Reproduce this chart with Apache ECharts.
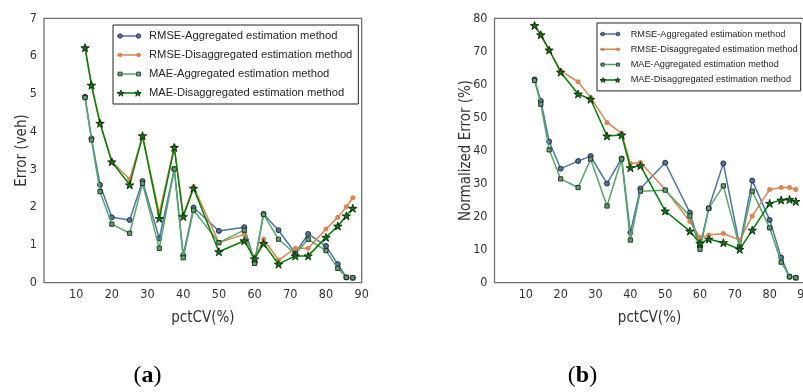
<!DOCTYPE html>
<html><head><meta charset="utf-8">
<script src="https://cdn.jsdelivr.net/npm/echarts@6/dist/echarts.min.js"></script>
<style>html,body{margin:0;padding:0;background:#fff}#c{width:803px;height:392px}</style>
</head><body><div id="c"></div>
<script>
// ---- data ----
const pctCV = [12.5, 14.3, 16.7, 20.0, 25.0, 28.6, 33.3, 37.5, 40.0, 42.9, 50.0, 57.1, 60.0, 62.5, 66.7, 71.4, 75.0, 80.0, 83.3, 85.7, 87.5];
const xTicks = [10, 20, 30, 40, 50, 60, 70, 80, 90];
const seriesNames = ['RMSE-Aggregated estimation method', 'RMSE-Disaggregated estimation method', 'MAE-Aggregated estimation method', 'MAE-Disaggregated estimation method'];
// (a) Error (veh)
const rmseAggA = [4.92, 3.82, 2.59, 1.73, 1.66, 2.69, 1.17, 3.01, 0.73, 1.99, 1.37, 1.47, 0.56, 1.82, 1.39, 0.78, 1.29, 0.97, 0.49, 0.14, 0.13];
const rmseDisA = [6.22, 5.23, 4.22, 3.20, 2.74, 3.87, 1.84, 3.60, 1.79, 2.54, 1.06, 1.28, 0.62, 1.15, 0.60, 0.91, 0.91, 1.42, 1.73, 2.01, 2.25];
const maeAggA  = [4.90, 3.78, 2.41, 1.55, 1.31, 2.63, 0.91, 3.01, 0.66, 1.92, 1.06, 1.39, 0.51, 1.81, 1.15, 0.76, 1.15, 0.85, 0.38, 0.14, 0.13];
const maeDisA  = [6.22, 5.23, 4.22, 3.20, 2.59, 3.89, 1.70, 3.58, 1.75, 2.50, 0.82, 1.11, 0.63, 1.04, 0.49, 0.71, 0.71, 1.20, 1.50, 1.77, 1.97];
// (b) Normalized Error (%)
const rmseAggB = [61.5, 55.0, 42.7, 34.5, 36.8, 38.3, 30.0, 37.6, 15.2, 28.5, 36.3, 21.2, 11.1, 22.5, 36.1, 11.1, 30.9, 19.0, 7.6, 1.8, 1.5];
const rmseDisB = [77.8, 75.0, 70.4, 64.1, 60.8, 56.0, 48.5, 45.2, 36.1, 36.4, 28.2, 18.5, 13.7, 14.4, 14.9, 12.9, 20.2, 28.2, 28.8, 28.8, 28.2];
const maeAggB  = [61.2, 54.0, 40.2, 31.4, 28.8, 37.4, 23.2, 37.4, 12.9, 27.7, 28.0, 20.2, 10.1, 22.5, 29.3, 10.7, 27.7, 16.6, 6.2, 1.8, 1.5];
const maeDisB  = [77.8, 75.0, 70.4, 63.7, 57.1, 55.5, 44.4, 44.7, 34.8, 35.4, 21.7, 15.6, 11.9, 13.2, 12.1, 10.1, 15.9, 24.0, 25.0, 25.2, 24.6];

// ---- styling helpers ----
const colors = ['#4C72B0', '#DD8452', '#55A868', '#008000'];
const edge = '#222222';
const narrow = "'Liberation Sans Narrow','Arial Narrow','DejaVu Sans Condensed',sans-serif";
const sans = "'Liberation Sans',Arial,sans-serif";

function starPts(cx, cy, R) {
  const r = R * 0.382; let s = '';
  for (let k = 0; k < 10; k++) {
    const ang = -Math.PI / 2 + k * Math.PI / 5;
    const rad = k % 2 === 0 ? R : r;
    s += (k === 0 ? 'M' : 'L') + (cx + rad * Math.cos(ang)).toFixed(3) + ',' + (cy + rad * Math.sin(ang)).toFixed(3) + ' ';
  }
  return s + 'Z ';
}
function circ(cx, cy, r) {
  return `M${cx - r},${cy} A${r},${r} 0 1,1 ${cx + r},${cy} A${r},${r} 0 1,1 ${cx - r},${cy} Z `;
}
function sq(cx, cy, h) {
  return `M${cx - h},${cy - h} L${cx + h},${cy - h} L${cx + h},${cy + h} L${cx - h},${cy + h} Z `;
}
function specks(W, H) {
  return `M0,0 L0.01,0 L0,0.01 Z M${W},${H} L${W - 0.01},${H} L${W},${H - 0.01} Z`;
}
const starSymbol = 'path://' + starPts(0, 0, 10);

function lineIcon(W, H) {
  return 'path://' + `M0,${H / 2 - 0.75} L${W},${H / 2 - 0.75} L${W},${H / 2 + 0.75} L0,${H / 2 + 0.75} Z ` + specks(W, H);
}
function markerIcon(kind, W, H, m) {
  let p = '';
  const a = m / 2 + 0.5, b = W - m / 2 - 0.5, c = H / 2;
  if (kind === 'circle') p = circ(a, c, m / 2) + circ(b, c, m / 2);
  else if (kind === 'rect') p = sq(a, c, m / 2 * 0.85) + sq(b, c, m / 2 * 0.85);
  else p = starPts(H / 2, c + 0.4, H / 2) + starPts(W - H / 2, c + 0.4, H / 2);
  return 'path://' + p + specks(W, H);
}
const kinds = ['circle', 'circle', 'rect', 'star'];
const borders = [edge, 'transparent', edge, '#111'];

function makeLegends(cfg) {
  const base = {
    orient: 'vertical', left: cfg.left, top: cfg.top, padding: cfg.padding,
    itemWidth: cfg.W, itemHeight: cfg.H, itemGap: cfg.gap, selectedMode: false,
    textStyle: { fontFamily: sans, fontSize: cfg.fs, lineHeight: cfg.lh, color: '#262626', padding: [0, 0, 0, cfg.tp] }
  };
  const lines = Object.assign({}, base, {
    borderColor: '#222', borderWidth: 1, backgroundColor: '#fff', z: 10,
    data: seriesNames.map((n, i) => ({ name: n, icon: lineIcon(cfg.W, cfg.H), itemStyle: { color: colors[i], borderWidth: 0 } }))
  });
  const marks = Object.assign({}, base, {
    borderWidth: 0, backgroundColor: 'transparent', z: 11,
    textStyle: Object.assign({}, base.textStyle, { color: 'rgba(0,0,0,0)' }),
    data: seriesNames.map((n, i) => ({ name: n, icon: markerIcon(kinds[i], cfg.W, cfg.H, cfg.m),
      itemStyle: { color: colors[i], borderColor: borders[i], borderWidth: i === 1 ? 0 : 0.7 } }))
  });
  return [lines, marks];
}

function mkSeries(vals, idx, axis) {
  const sym = [ 'circle', 'circle', 'rect', starSymbol ][idx];
  const size = [5, 5, 4.2, 8.5][idx];
  return {
    type: 'line', name: seriesNames[idx], xAxisIndex: axis, yAxisIndex: axis,
    data: vals.map((v, i) => [pctCV[i], v]),
    symbol: sym, symbolSize: size, showAllSymbol: true, symbolKeepAspect: true,
    lineStyle: { color: colors[idx], width: 1.5 },
    itemStyle: { color: colors[idx], borderColor: borders[idx], borderWidth: idx === 1 ? 0 : (idx === 3 ? 0.8 : 0.9) },
    emphasis: { disabled: true }, z: 2 + idx
  };
}

const gridTop = 18.3, gridH = 264.4;
const xAxisCommon = {
  type: 'value', min: 1, max: 90,
  axisLine: { show: false }, axisTick: { show: false }, splitLine: { show: false },
  axisLabel: { customValues: xTicks, margin: 6, fontFamily: narrow, fontSize: 12.5, color: '#333' },
  name: 'pctCV(%)', nameLocation: 'middle', nameGap: 28, nameMoveOverlap: false,
  nameTextStyle: { fontFamily: narrow, fontSize: 15, color: '#333' }
};
const yAxisCommon = {
  type: 'value', min: 0,
  axisLine: { show: false }, axisTick: { show: false }, splitLine: { show: false },
  axisLabel: { margin: 7, fontFamily: narrow, fontSize: 12.5, color: '#333' },
  nameLocation: 'middle', nameMoveOverlap: false,
  nameTextStyle: { fontFamily: narrow, fontSize: 15, color: '#333' }
};

const gridCommon = { show: true, borderColor: '#707070', borderWidth: 1.3, backgroundColor: '#fff', outerBoundsMode: 'none', containLabel: false };
const option = {
  animation: false,
  backgroundColor: '#fff',
  grid: [
    Object.assign({ left: 44, top: gridTop, width: 317.7, height: gridH }, gridCommon),
    Object.assign({ left: 494.5, top: gridTop, width: 310, height: gridH }, gridCommon)
  ],
  xAxis: [
    Object.assign({}, xAxisCommon, { gridIndex: 0 }),
    Object.assign({}, xAxisCommon, { gridIndex: 1 })
  ],
  yAxis: [
    Object.assign({}, yAxisCommon, { gridIndex: 0, max: 7, interval: 1, name: 'Error (veh)', nameGap: 14 }),
    Object.assign({}, yAxisCommon, { gridIndex: 1, max: 80, interval: 10, name: 'Normalized Error (%)', nameGap: 21 })
  ],
  legend: [
    ...makeLegends({ left: 113, top: 25, padding: [4, 6, 4, 4], W: 24, H: 7, gap: 5, fs: 11.2, lh: 14, tp: 3, m: 4.6 }),
    ...makeLegends({ left: 597, top: 23, padding: [5.5, 3, 5.5, 3], W: 20, H: 5.6, gap: 4.3, fs: 9.2, lh: 11, tp: 5.7, m: 3.7 })
  ],
  series: [
    mkSeries(rmseAggA, 0, 0), mkSeries(rmseDisA, 1, 0), mkSeries(maeAggA, 2, 0), mkSeries(maeDisA, 3, 0),
    mkSeries(rmseAggB, 0, 1), mkSeries(rmseDisB, 1, 1), mkSeries(maeAggB, 2, 1), mkSeries(maeDisB, 3, 1)
  ],
  graphic: [
    { type: 'text', x: 147.5, y: 376, style: { text: '{p|(}{b|a}{p|)}', align: 'center', verticalAlign: 'middle',
      rich: { p: { fontFamily: "'Liberation Serif',serif", fontSize: 24, fill: '#000' }, b: { fontFamily: "'Liberation Serif',serif", fontWeight: 'bold', fontSize: 24, fill: '#000' } } } },
    { type: 'text', x: 582.5, y: 376, style: { text: '{p|(}{b|b}{p|)}', align: 'center', verticalAlign: 'middle',
      rich: { p: { fontFamily: "'Liberation Serif',serif", fontSize: 24, fill: '#000' }, b: { fontFamily: "'Liberation Serif',serif", fontWeight: 'bold', fontSize: 24, fill: '#000' } } } }
  ]
};
const chart = echarts.init(document.getElementById('c'), null, { renderer: 'canvas' });
chart.setOption(option);
</script>
</body></html>
